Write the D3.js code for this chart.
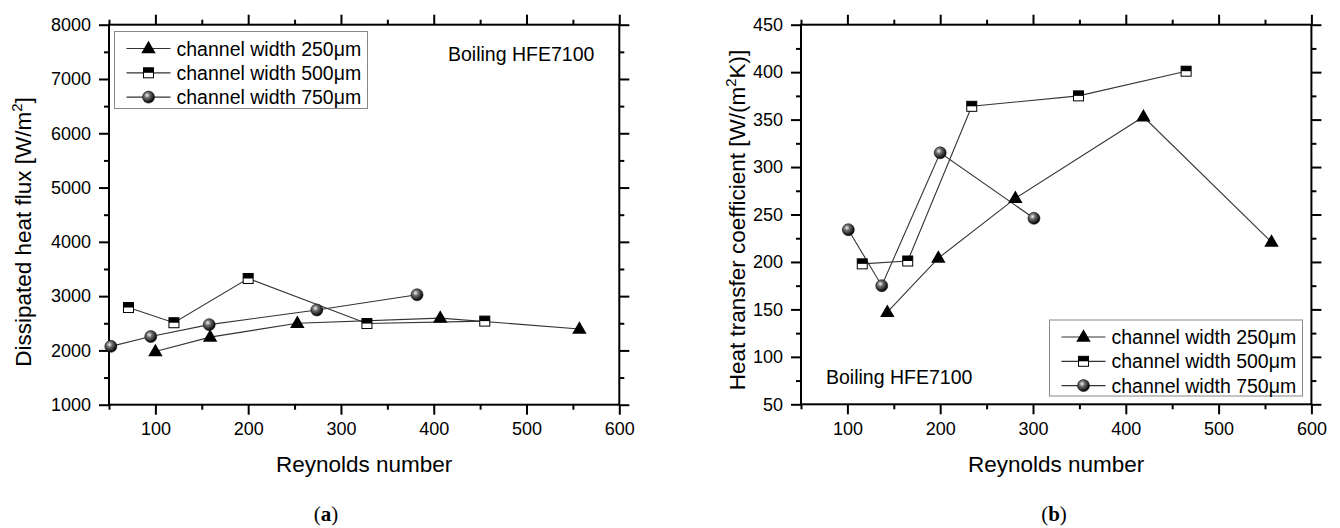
<!DOCTYPE html>
<html><head><meta charset="utf-8">
<script src="https://cdn.jsdelivr.net/npm/d3@7"></script>
<style>
body{margin:0;background:#fff;}
text{font-family:"Liberation Sans",Arial,sans-serif;fill:#000;}
</style></head>
<body><svg id="c" width="1340" height="528"></svg>
<script>
// ---- data (panel a) ----
const reA250 = [100, 159, 253, 407, 557];
const qA250  = [1980, 2245, 2500, 2595, 2395];
const reA500 = [71, 120, 200, 328, 455];
const qA500  = [2790, 2510, 3325, 2495, 2540];
const reA750 = [52, 95, 158, 274, 382];
const qA750  = [2075, 2255, 2475, 2745, 3025];
// ---- data (panel b) ----
const reB250 = [143, 198, 281, 419, 557];
const hB250  = [147, 204, 267, 353, 221];
const reB500 = [116, 165, 234, 349, 465];
const hB500  = [198, 201, 364, 375, 401];
const reB750 = [101, 137, 200, 301];
const hB750  = [234, 175, 315, 246];
// ---- ticks / labels ----
const xTicks = [100, 200, 300, 400, 500, 600];
const yTicksA = [1000, 2000, 3000, 4000, 5000, 6000, 7000, 8000];
const yTicksB = [50, 100, 150, 200, 250, 300, 350, 400, 450];
const seriesNames = ["channel width 250\u03bcm", "channel width 500\u03bcm", "channel width 750\u03bcm"];

const svg = d3.select("#c");
const defs = svg.append("defs");
const g = defs.append("radialGradient").attr("id","sph").attr("cx","0.38").attr("cy","0.35").attr("r","0.65");
g.append("stop").attr("offset","0").attr("stop-color","#f4f4f4");
g.append("stop").attr("offset","0.35").attr("stop-color","#707070");
g.append("stop").attr("offset","1").attr("stop-color","#000");

function marker(sel, type, x, y){
  if(type===0){
    sel.append("path").attr("d", d3.symbol(d3.symbolTriangle, 90)()).attr("transform",`translate(${x},${y+0.5})`).attr("fill","#000");
  } else if(type===1){
    const s=10;
    sel.append("rect").attr("x",x-s/2).attr("y",y-s/2).attr("width",s).attr("height",s).attr("fill","#fff").attr("stroke","#000").attr("stroke-width",1);
    sel.append("rect").attr("x",x-s/2).attr("y",y-s/2).attr("width",s).attr("height",s/2).attr("fill","#000");
  } else {
    sel.append("circle").attr("cx",x).attr("cy",y).attr("r",6).attr("fill","url(#sph)").attr("stroke","#111").attr("stroke-width",0.6);
  }
}

function panel(o){
  const x = d3.scaleLinear().domain([50,600]).range([o.l, o.r]);
  const y = d3.scaleLinear().domain(o.yDom).range([o.b, o.t]);
  const root = svg.append("g");
  const xMinor = d3.range(50, 601, 50).filter(v=>v%100!==0);
  const yMinor = d3.range(o.yDom[0], o.yDom[1]+0.1, o.yStep/2).filter(v=>!o.yTicks.includes(v));
  function ax(gen, tr){
    const a = root.append("g").attr("transform",tr).call(gen);
    a.select(".domain").remove();
    a.selectAll("line").attr("stroke","#000").attr("stroke-width",2);
    a.selectAll("text").style("font-size","18px");
    return a;
  }
  ax(d3.axisBottom(x).tickValues(xTicks).tickSize(10).tickPadding(8).tickFormat(d3.format("d")), `translate(0,${o.b})`);
  ax(d3.axisBottom(x).tickValues(xMinor).tickSize(5).tickFormat(""), `translate(0,${o.b})`);
  ax(d3.axisTop(x).tickValues(xTicks).tickSize(10).tickFormat(""), `translate(0,${o.t})`);
  ax(d3.axisTop(x).tickValues(xMinor).tickSize(5).tickFormat(""), `translate(0,${o.t})`);
  ax(d3.axisLeft(y).tickValues(o.yTicks).tickSize(10).tickPadding(8).tickFormat(d3.format("d")), `translate(${o.l},0)`);
  ax(d3.axisLeft(y).tickValues(yMinor).tickSize(5).tickFormat(""), `translate(${o.l},0)`);
  ax(d3.axisRight(y).tickValues(o.yTicks).tickSize(10).tickFormat(""), `translate(${o.r},0)`);
  ax(d3.axisRight(y).tickValues(yMinor).tickSize(5).tickFormat(""), `translate(${o.r},0)`);
  root.append("rect").attr("x",o.l).attr("y",o.t).attr("width",o.r-o.l).attr("height",o.b-o.t)
    .attr("fill","none").attr("stroke","#000").attr("stroke-width",2);
  const line = d3.line().x(d=>x(d[0])).y(d=>y(d[1]));
  o.series.forEach((s,i)=>{
    const pts = s[0].map((v,k)=>[v, s[1][k]]);
    root.append("path").attr("d", line(pts)).attr("fill","none").attr("stroke","#333").attr("stroke-width",1.1);
  });
  o.series.forEach((s,i)=>{
    s[0].forEach((v,k)=> marker(root, i, x(v), y(s[1][k])));
  });
  const L = o.leg;
  root.append("rect").attr("x",L.x).attr("y",L.y).attr("width",L.w).attr("height",L.h)
    .attr("fill","#fff").attr("stroke","#888").attr("stroke-width",1);
  seriesNames.forEach((n,i)=>{
    const cy = L.y + 17 + i*24.3;
    root.append("line").attr("x1",L.x+12).attr("x2",L.x+56).attr("y1",cy).attr("y2",cy).attr("stroke","#333").attr("stroke-width",1.2);
    marker(root, i, L.x+34, cy);
    root.append("text").attr("x",L.x+62).attr("y",cy+7).style("font-size","19.5px").text(n);
  });
  root.append("text").attr("x",o.ann[0]).attr("y",o.ann[1]).style("font-size","19.5px").text("Boiling HFE7100");
  root.append("text").attr("x",(o.l+o.r)/2).attr("y",o.xty).attr("text-anchor","middle").style("font-size","22.5px").text("Reynolds number");
  const yt = root.append("text").attr("transform",`translate(${o.ytx},${o.yty}) rotate(-90)`).attr("text-anchor","middle").style("font-size","22.5px");
  o.ytitle(yt);
  const cap = root.append("text").attr("x",o.cap[0]).attr("y",o.cap[1]).attr("text-anchor","middle")
    .style("font-family","'Liberation Serif',serif").style("font-size","21px");
  cap.append("tspan").text("(");
  cap.append("tspan").style("font-weight","bold").text(o.capText);
  cap.append("tspan").text(")");
}

panel({l:109, r:619.3, t:24.7, b:404.7, yDom:[1000,8000], yTicks:yTicksA, yStep:1000,
  series:[[reA250,qA250],[reA500,qA500],[reA750,qA750]],
  leg:{x:114.5, y:31.5, w:253, h:77}, ann:[448,61], xty:472,
  ytx:31, yty:232,
  ytitle:t=>{ t.append("tspan").text("Dissipated heat flux [W/m"); t.append("tspan").attr("dy","-9").style("font-size","15px").text("2"); t.append("tspan").attr("dy","9").text("]"); },
  cap:[326,521], capText:"a"});

panel({l:801, r:1311.4, t:24.7, b:404.3, yDom:[50,450], yTicks:yTicksB, yStep:50,
  series:[[reB250,hB250],[reB500,hB500],[reB750,hB750]],
  leg:{x:1049.5, y:320, w:253, h:76}, ann:[826,384], xty:472,
  ytx:745, yty:220,
  ytitle:t=>{ t.append("tspan").text("Heat transfer coefficient [W/(m"); t.append("tspan").attr("dy","-9").style("font-size","15px").text("2"); t.append("tspan").attr("dy","9").text("K)]"); },
  cap:[1054,521], capText:"b"});
</script></body></html>
